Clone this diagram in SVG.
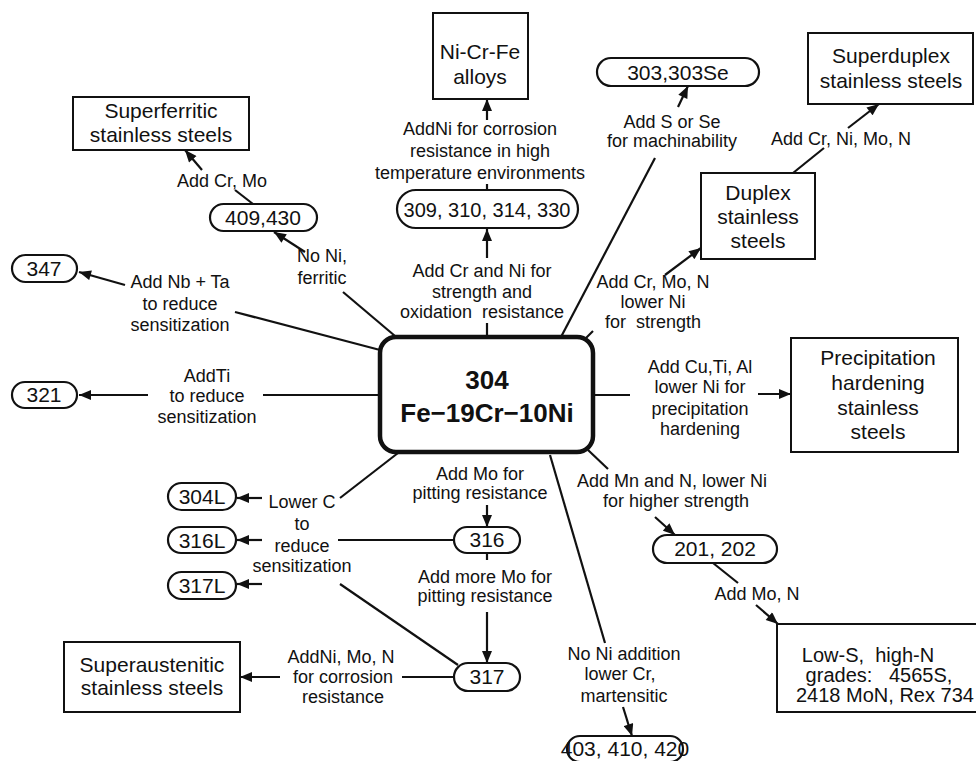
<svg xmlns="http://www.w3.org/2000/svg" width="976" height="761" viewBox="0 0 976 761">
<style>
text{font-family:"Liberation Sans",Arial,sans-serif;fill:#111;text-anchor:middle}
.n{font-size:21px}
.p{font-size:21px}
.l{font-size:18px}
.box{fill:#fff;stroke:#111;stroke-width:2}
.pill{fill:#fff;stroke:#111;stroke-width:2.2}
.c line{stroke:#111;stroke-width:2.2}
.a{marker-end:url(#ah)}
</style>
<defs>
<marker id="ah" viewBox="0 0 12 10" refX="12" refY="5" markerWidth="13" markerHeight="10" orient="auto" markerUnits="userSpaceOnUse">
<path d="M0,0 L12,5 L0,10 z" fill="#111"/>
</marker>
</defs>
<rect width="976" height="761" fill="#fff"/>
<g class="c" id="connectors">
<line x1="253" y1="204" x2="235" y2="190"/>
<line class="a" x1="202" y1="170" x2="185" y2="150"/>
<line x1="395" y1="336" x2="343" y2="292"/>
<line class="a" x1="305" y1="252" x2="274" y2="232"/>
<line x1="380" y1="350" x2="235" y2="312"/>
<line class="a" x1="125" y1="285" x2="79" y2="272"/>
<line x1="380" y1="395" x2="263" y2="395"/>
<line class="a" x1="148" y1="395" x2="79" y2="395"/>
<line x1="398" y1="453" x2="340" y2="498"/>
<line class="a" x1="262" y1="498" x2="237" y2="498"/>
<line x1="454" y1="540" x2="338" y2="540"/>
<line class="a" x1="262" y1="540" x2="237" y2="540"/>
<line x1="458" y1="665" x2="340" y2="584"/>
<line class="a" x1="262" y1="584" x2="237" y2="584"/>
<line class="a" x1="487" y1="505" x2="487" y2="527"/>
<line x1="487" y1="553" x2="487" y2="560"/>
<line class="a" x1="487" y1="612" x2="487" y2="663"/>
<line x1="454" y1="677" x2="402" y2="677"/>
<line class="a" x1="280" y1="677" x2="240" y2="677"/>
<line class="a" x1="487" y1="120" x2="487" y2="99"/>
<line x1="487" y1="184" x2="487" y2="190"/>
<line class="a" x1="487" y1="258" x2="487" y2="229"/>
<line x1="487" y1="323" x2="487" y2="337"/>
<line x1="561" y1="337" x2="655" y2="158"/>
<line class="a" x1="678" y1="107" x2="688" y2="86"/>
<line x1="583" y1="341" x2="593" y2="331"/>
<line class="a" x1="665" y1="275" x2="701" y2="248"/>
<line x1="793" y1="173" x2="824" y2="148"/>
<line class="a" x1="848" y1="128" x2="879" y2="104"/>
<line x1="593" y1="395" x2="630" y2="395"/>
<line class="a" x1="758" y1="394" x2="791" y2="394"/>
<line x1="588" y1="450" x2="608" y2="469"/>
<line class="a" x1="655" y1="517" x2="675" y2="535"/>
<line x1="713" y1="563" x2="738" y2="583"/>
<line class="a" x1="756" y1="605" x2="778" y2="624"/>
<line x1="550" y1="455" x2="605" y2="643"/>
<line class="a" x1="623" y1="707" x2="632" y2="736"/>
</g>
<g id="labels" class="l">
<text x="222" y="187">Add Cr, Mo</text>
<text x="322" y="262">No Ni,</text>
<text x="322" y="284">ferritic</text>
<text x="180" y="288">Add Nb + Ta</text>
<text x="180" y="310">to reduce</text>
<text x="180" y="331">sensitization</text>
<text x="207" y="382">AddTi</text>
<text x="207" y="402">to reduce</text>
<text x="207" y="423">sensitization</text>
<text x="302" y="508">Lower C</text>
<text x="302" y="530">to</text>
<text x="302" y="552">reduce</text>
<text x="302" y="572">sensitization</text>
<text x="480" y="480">Add Mo for</text>
<text x="480" y="499">pitting resistance</text>
<text x="485" y="583">Add more Mo for</text>
<text x="485" y="602">pitting resistance</text>
<text x="341" y="663">AddNi, Mo, N</text>
<text x="343" y="683">for corrosion</text>
<text x="343" y="703">resistance</text>
<text x="480" y="135">AddNi for corrosion</text>
<text x="480" y="157">resistance in high</text>
<text x="480" y="179">temperature environments</text>
<text x="482" y="277">Add Cr and Ni for</text>
<text x="482" y="298">strength and</text>
<text x="482" y="318">oxidation&#160; resistance</text>
<text x="672" y="128">Add S or Se</text>
<text x="672" y="147">for machinability</text>
<text x="653" y="288">Add Cr, Mo, N</text>
<text x="653" y="308">lower Ni</text>
<text x="653" y="328">for&#160; strength</text>
<text x="841" y="145">Add Cr, Ni, Mo, N</text>
<text x="700" y="373">Add Cu,Ti, Al</text>
<text x="700" y="393">lower Ni for</text>
<text x="700" y="415">precipitation</text>
<text x="700" y="435">hardening</text>
<text x="672" y="487">Add Mn and N, lower Ni</text>
<text x="676" y="507">for higher strength</text>
<text x="757" y="600">Add Mo, N</text>
<text x="624" y="660">No Ni addition</text>
<text x="620" y="680">lower Cr,</text>
<text x="624" y="702">martensitic</text>
</g>
<g id="center">
<rect x="380" y="337" width="213" height="115" rx="16" fill="#fff" stroke="#111" stroke-width="4.5"/>
<text x="487" y="389" style="font-size:26px;font-weight:bold">304</text>
<text x="487" y="422" style="font-size:26px;font-weight:bold">Fe−19Cr−10Ni</text>
</g>
<g id="superferritic" class="n"><rect class="box" x="73" y="97" width="176" height="53"/><text x="161" y="118">Superferritic</text><text x="161" y="142">stainless steels</text></g>
<g id="nicrfe" class="n"><rect class="box" x="433" y="13" width="95" height="86"/><text x="480" y="59">Ni-Cr-Fe</text><text x="480" y="84">alloys</text></g>
<g id="p303" class="p"><rect class="pill" x="597" y="58" width="162" height="28" rx="14"/><text x="678" y="80">303,303Se</text></g>
<g id="superduplex" class="n"><rect class="box" x="808" y="33" width="165" height="71"/><text x="891" y="63">Superduplex</text><text x="891" y="88">stainless steels</text></g>
<g id="duplex" class="n"><rect class="box" x="701" y="173" width="114" height="86"/><text x="758" y="200">Duplex</text><text x="758" y="224">stainless</text><text x="758" y="248">steels</text></g>
<g id="p409" class="p"><rect class="pill" x="210" y="204" width="107" height="27" rx="13.5"/><text x="263" y="225">409,430</text></g>
<g id="p309" class="p"><rect class="pill" x="397" y="190" width="181" height="38" rx="19"/><text x="487" y="217" style="font-size:20px">309, 310, 314, 330</text></g>
<g id="p347" class="p"><rect class="pill" x="12" y="255" width="65" height="27" rx="13.5"/><text x="44" y="276">347</text></g>
<g id="p321" class="p"><rect class="pill" x="12" y="382" width="65" height="26" rx="13"/><text x="44" y="402">321</text></g>
<g id="precip" class="n"><rect class="box" x="791" y="338" width="167" height="114"/><text x="878" y="365">Precipitation</text><text x="878" y="390">hardening</text><text x="878" y="415">stainless</text><text x="878" y="439">steels</text></g>
<g id="p304L" class="p"><rect class="pill" x="168" y="483" width="68" height="27" rx="13.5"/><text x="202" y="504">304L</text></g>
<g id="p316L" class="p"><rect class="pill" x="168" y="527" width="68" height="26" rx="13"/><text x="202" y="548">316L</text></g>
<g id="p317L" class="p"><rect class="pill" x="168" y="572" width="68" height="27" rx="13.5"/><text x="202" y="593">317L</text></g>
<g id="p316" class="p"><rect class="pill" x="454" y="527" width="66" height="26" rx="13"/><text x="487" y="547">316</text></g>
<g id="p317" class="p"><rect class="pill" x="454" y="663" width="66" height="28" rx="14"/><text x="487" y="684">317</text></g>
<g id="superaust" class="n"><rect class="box" x="64" y="642" width="176" height="70"/><text x="152" y="672">Superaustenitic</text><text x="152" y="695">stainless steels</text></g>
<g id="p201" class="p"><rect class="pill" x="653" y="535" width="124" height="28" rx="14"/><text x="715" y="556">201, 202</text></g>
<g id="lows" class="n"><rect class="box" x="777" y="624" width="213" height="88"/><text x="868" y="662" style="font-size:20px">Low-S,&#160; high-N</text><text x="879" y="682" style="font-size:20px">grades:&#160;&#160; 4565S,</text><text x="796" y="702" style="font-size:20px;text-anchor:start">2418 MoN, Rex 734</text></g>
<g id="p403" class="p"><rect class="pill" x="567" y="736" width="116" height="26" rx="13"/><text x="625" y="756">403, 410, 420</text></g>
</svg>
